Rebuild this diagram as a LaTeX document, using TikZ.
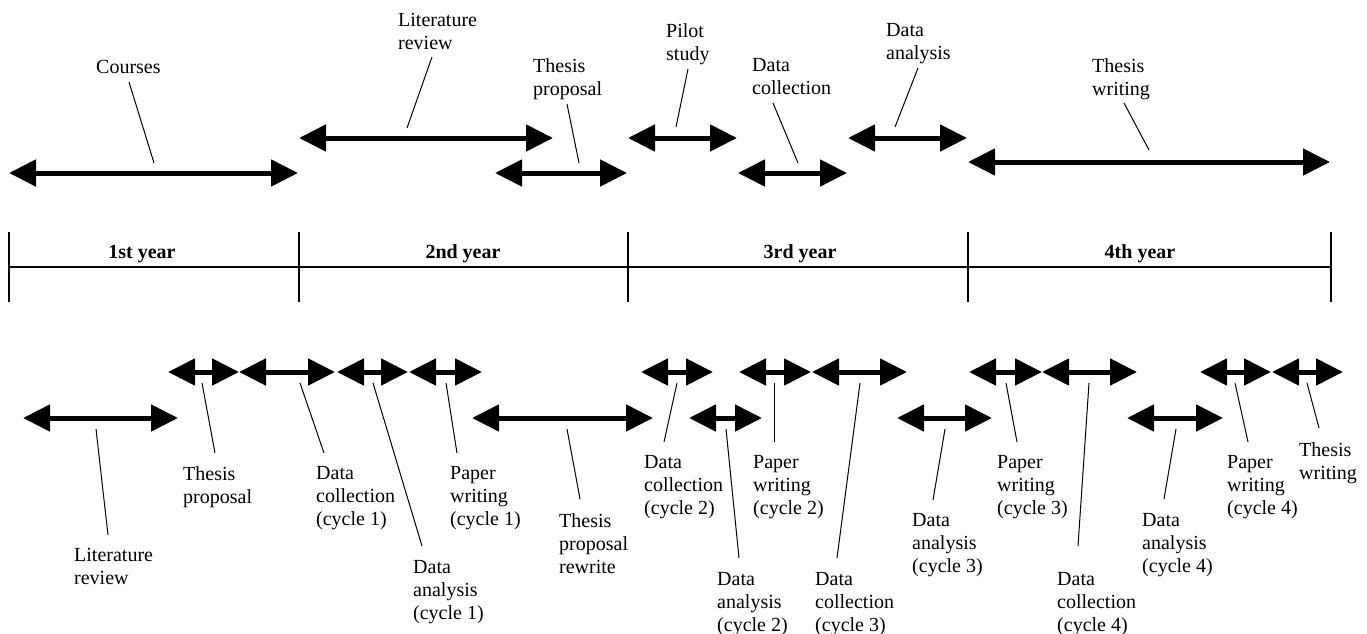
\documentclass[tikz,border=0pt]{standalone}
\usepackage{fontspec}
\setmainfont{Liberation Serif}
\usetikzlibrary{arrows.meta}
\newcommand{\tlspan}[4]{%
  \coordinate (#1-l) at (#2,#4);
  \coordinate (#1-r) at (#3,#4);
  \draw[spanline] (#1-l) -- (#1-r);}
\newcommand{\tlleader}[5]{%
  \coordinate (#1-a) at (#2,#3);
  \coordinate (#1-b) at (#4,#5);
  \draw[leaderline] (#1-a) -- (#1-b);}
\begin{document}
\begin{tikzpicture}[x=1pt,y=-1pt,
  spanline/.style={line width=5pt,
    {Triangle[length=27pt,width=26pt]}-{Triangle[length=27pt,width=26pt]}},
  leaderline/.style={line width=1pt},
  lbl/.style={anchor=north west,inner sep=0pt,align=left,
    font=\fontsize{20}{23}\selectfont},
  yearlbl/.style={anchor=base,inner sep=0pt,
    font=\fontsize{20}{23}\selectfont\bfseries},
  tick/.style={line width=1.3pt},
  axis/.style={line width=1.3pt}]
\useasboundingbox (0,0) rectangle (1367,634);

% ---------- timeline ----------
\foreach \n/\x in {t0/9,t1/299,t2/628,t3/968,t4/1331}{
  \coordinate (\n-top) at (\x,232);
  \coordinate (\n-bot) at (\x,302);
  \coordinate (\n-mid) at (\x,267);
  \draw[tick] (\n-top) -- (\n-bot);
}
\draw[axis] (t0-mid) -- (t4-mid);
\node[yearlbl] (y1) at (142,258) {1st year};
\node[yearlbl] (y2) at (463,258) {2nd year};
\node[yearlbl] (y3) at (800,258) {3rd year};
\node[yearlbl] (y4) at (1140,258) {4th year};

% ---------- top row ----------
\tlspan{courses}{9}{298}{173}
\node[lbl] (courses-lbl) at (96,60) {Courses};
\tlleader{courses}{129}{82}{154}{163}

\tlspan{litrev}{299}{553}{138}
\node[lbl] (litrev-lbl) at (398,13) {Literature\\review};
\tlleader{litrev}{432}{57}{407}{128}

\tlspan{tprop}{495}{627}{173}
\node[lbl] (tprop-lbl) at (533,58) {Thesis\\proposal};
\tlleader{tprop}{567}{104}{579}{163}

\tlspan{pilot}{628}{737}{138}
\node[lbl] (pilot-lbl) at (666,23) {Pilot\\study};
\tlleader{pilot}{688}{69}{676}{127}

\tlspan{dcol}{738}{847}{173}
\node[lbl] (dcol-lbl) at (752,58) {Data\\collection};
\tlleader{dcol}{773}{103}{798}{163}

\tlspan{dana}{848}{967}{138}
\node[lbl] (dana-lbl) at (886,23) {Data\\analysis};
\tlleader{dana}{918}{68}{895}{127}

\tlspan{twrite}{968}{1330}{162}
\node[lbl] (twrite-lbl) at (1092,58) {Thesis\\writing};
\tlleader{twrite}{1124}{103}{1149}{150}

% ---------- bottom row ----------
\tlspan{blit}{23}{178}{418}
\node[lbl] (blit-lbl) at (74,548) {Literature\\review};
\tlleader{blit}{96}{429}{108}{535}

\tlspan{bprop}{168}{239}{372}
\node[lbl] (bprop-lbl) at (183,466) {Thesis\\proposal};
\tlleader{bprop}{202}{383}{215}{453}

\tlspan{bdc1}{239}{335}{372}
\node[lbl] (bdc1-lbl) at (316,466) {Data\\collection\\(cycle 1)};
\tlleader{bdc1}{300}{383}{324}{453}

\tlspan{bda1}{337}{408}{372}
\node[lbl] (bda1-lbl) at (413,560) {Data\\analysis\\(cycle 1)};
\tlleader{bda1}{373}{383}{422}{546}

\tlspan{bpw1}{409}{482}{372}
\node[lbl] (bpw1-lbl) at (450,466) {Paper\\writing\\(cycle 1)};
\tlleader{bpw1}{446}{383}{457}{453}

\tlspan{brew}{472}{653}{418}
\node[lbl] (brew-lbl) at (559,513) {Thesis\\proposal\\rewrite};
\tlleader{brew}{567}{429}{580}{499}

\tlspan{bdc2}{641}{713}{372}
\node[lbl] (bdc2-lbl) at (644,455) {Data\\collection\\(cycle 2)};
\tlleader{bdc2}{677}{383}{664}{442}

\tlspan{bda2}{689}{762}{418}
\node[lbl] (bda2-lbl) at (717,572) {Data\\analysis\\(cycle 2)};
\tlleader{bda2}{726}{429}{739}{558}

\tlspan{bpw2}{739}{811}{372}
\node[lbl] (bpw2-lbl) at (753,455) {Paper\\writing\\(cycle 2)};
\tlleader{bpw2}{774}{383}{774}{442}

\tlspan{bdc3}{812}{907}{372}
\node[lbl] (bdc3-lbl) at (815,572) {Data\\collection\\(cycle 3)};
\tlleader{bdc3}{860}{383}{837}{558}

\tlspan{bda3}{897}{992}{418}
\node[lbl] (bda3-lbl) at (912,513) {Data\\analysis\\(cycle 3)};
\tlleader{bda3}{945}{429}{933}{500}

\tlspan{bpw3}{969}{1042}{372}
\node[lbl] (bpw3-lbl) at (997,455) {Paper\\writing\\(cycle 3)};
\tlleader{bpw3}{1006}{383}{1017}{442}

\tlspan{bdc4}{1042}{1137}{372}
\node[lbl] (bdc4-lbl) at (1057,572) {Data\\collection\\(cycle 4)};
\tlleader{bdc4}{1089}{383}{1078}{546}

\tlspan{bda4}{1127}{1223}{418}
\node[lbl] (bda4-lbl) at (1142,513) {Data\\analysis\\(cycle 4)};
\tlleader{bda4}{1176}{429}{1164}{499}

\tlspan{bpw4}{1200}{1271}{372}
\node[lbl] (bpw4-lbl) at (1227,455) {Paper\\writing\\(cycle 4)};
\tlleader{bpw4}{1235}{383}{1248}{442}

\tlspan{btw}{1272}{1343}{372}
\node[lbl] (btw-lbl) at (1299,442) {Thesis\\writing};
\tlleader{btw}{1307}{383}{1319}{428}
\end{tikzpicture}
\end{document}
